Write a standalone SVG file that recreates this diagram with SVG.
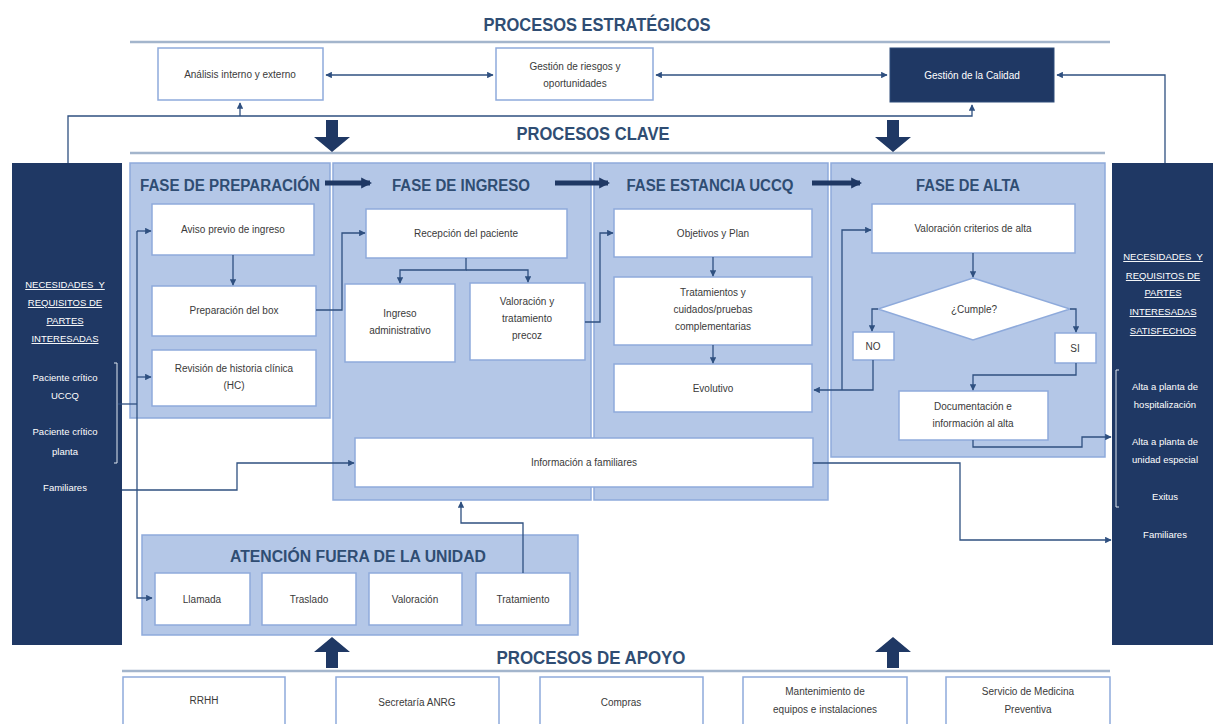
<svg xmlns="http://www.w3.org/2000/svg" width="1213" height="724" viewBox="0 0 1213 724">
<defs>
<style>
.box{fill:#fff;stroke:#8eaadb;stroke-width:1.5}
.phase{fill:#b4c7e7;stroke:#8eaadb;stroke-width:1.5}
.navy{fill:#1f3864}
.t{font-family:"Liberation Sans",Arial,sans-serif;font-size:10px;fill:#3a3a3a;text-anchor:middle}
.w{font-family:"Liberation Sans",Arial,sans-serif;font-size:9.5px;fill:#fff;text-anchor:middle}
.u{text-decoration:underline}
.h{font-family:"Liberation Sans",Arial,sans-serif;font-weight:bold;fill:#2f4d73;font-size:18px;text-anchor:middle}
.ph{font-family:"Liberation Sans",Arial,sans-serif;font-weight:bold;fill:#2f4d73;font-size:16px;text-anchor:middle}
.c{fill:none;stroke:#2f5080;stroke-width:1.3}
.thick{fill:none;stroke:#1f3864;stroke-width:5}
.rule{stroke:#a3b5cc;stroke-width:2.5}
.big{fill:#1f3864}
</style>
<marker id="a" viewBox="0 0 10 10" refX="9" refY="5" markerWidth="5" markerHeight="5" orient="auto-start-reverse"><path d="M0,0 L10,5 L0,10 z" fill="#2f5080"/></marker>
<marker id="b" viewBox="0 0 10 10" refX="8" refY="5" markerWidth="2.2" markerHeight="2.4" orient="auto"><path d="M0,0 L10,5 L0,10 z" fill="#1f3864"/></marker>
</defs>
<rect width="1213" height="724" fill="#fff"/>

<!-- Section titles and rules -->
<g id="titles">
<text class="h" x="597" y="31" textLength="227" lengthAdjust="spacingAndGlyphs">PROCESOS ESTRATÉGICOS</text>
<line class="rule" x1="130" y1="42" x2="1110" y2="42"/>
<text class="h" x="593" y="140" textLength="153" lengthAdjust="spacingAndGlyphs">PROCESOS CLAVE</text>
<line class="rule" x1="130" y1="153" x2="1105" y2="153"/>
<text class="h" x="591" y="664" textLength="189" lengthAdjust="spacingAndGlyphs">PROCESOS DE APOYO</text>
<line class="rule" x1="122" y1="671" x2="1110" y2="671"/>
<path class="big" d="M326,120 h12 v17 h12 l-18,15 l-18,-15 h12 z"/>
<path class="big" d="M887,120 h12 v17 h12 l-18,15 l-18,-15 h12 z"/>
<path class="big" d="M326,668 h12 v-16 h12 l-18,-15 l-18,15 h12 z"/>
<path class="big" d="M887,668 h12 v-16 h12 l-18,-15 l-18,15 h12 z"/>
</g>

<!-- Phase containers -->
<g id="phase-preparacion">
<rect class="phase" x="130" y="163" width="200" height="255"/>
<text class="ph" x="230" y="191" textLength="180" lengthAdjust="spacingAndGlyphs">FASE DE PREPARACIÓN</text>
</g>
<g id="phase-ingreso">
<rect class="phase" x="333" y="163" width="258" height="337"/>
<text class="ph" x="461" y="191" textLength="138" lengthAdjust="spacingAndGlyphs">FASE DE INGRESO</text>
</g>
<g id="phase-estancia">
<rect class="phase" x="594" y="163" width="234" height="337"/>
<text class="ph" x="710" y="191" textLength="167" lengthAdjust="spacingAndGlyphs">FASE ESTANCIA UCCQ</text>
</g>
<g id="phase-alta">
<rect class="phase" x="831" y="163" width="274" height="294"/>
<text class="ph" x="968" y="191" textLength="104" lengthAdjust="spacingAndGlyphs">FASE DE ALTA</text>
</g>
<g id="atencion-fuera">
<rect class="phase" x="142" y="535" width="436" height="100"/>
<text class="ph" x="358" y="562" textLength="256" lengthAdjust="spacingAndGlyphs">ATENCIÓN FUERA DE LA UNIDAD</text>
</g>

<!-- Sidebars -->
<g id="sidebar-left">
<rect class="navy" x="12" y="163" width="110" height="482"/>
<text class="w u" x="65" y="288">NECESIDADES&#160; Y</text>
<text class="w u" x="65" y="306">REQUISITOS DE</text>
<text class="w u" x="65" y="324">PARTES</text>
<text class="w u" x="65" y="342">INTERESADAS</text>
<text class="w" x="65" y="381">Paciente crítico</text>
<text class="w" x="65" y="399">UCCQ</text>
<text class="w" x="65" y="435">Paciente crítico</text>
<text class="w" x="65" y="455">planta</text>
<text class="w" x="65" y="491">Familiares</text>
<path d="M114,363 h3 v100 h-3" fill="none" stroke="#dfe6f0" stroke-width="1"/>
</g>
<g id="sidebar-right">
<rect class="navy" x="1112" y="163" width="101" height="482"/>
<text class="w u" x="1163" y="260">NECESIDADES&#160; Y</text>
<text class="w u" x="1163" y="279">REQUISITOS DE</text>
<text class="w u" x="1163" y="296">PARTES</text>
<text class="w u" x="1163" y="315">INTERESADAS</text>
<text class="w u" x="1163" y="334">SATISFECHOS</text>
<text class="w" x="1165" y="390">Alta a planta de</text>
<text class="w" x="1165" y="408">hospitalización</text>
<text class="w" x="1165" y="445">Alta a planta de</text>
<text class="w" x="1165" y="463">unidad especial</text>
<text class="w" x="1165" y="500">Exitus</text>
<text class="w" x="1165" y="538">Familiares</text>
<path d="M1119,370 h-3 v137 h3" fill="none" stroke="#dfe6f0" stroke-width="1"/>
</g>

<!-- Strategic nodes -->
<g id="analisis">
<rect class="box" x="158" y="48" width="165" height="52"/>
<text class="t" x="240" y="78">Análisis interno y externo</text>
</g>
<g id="riesgos">
<rect class="box" x="496" y="48" width="157" height="52"/>
<text class="t" x="575" y="70">Gestión de riesgos y</text>
<text class="t" x="575" y="87">oportunidades</text>
</g>
<g id="calidad">
<rect class="navy" x="890" y="48" width="164" height="54" stroke="#2f4d7a" stroke-width="1"/>
<text class="t" x="972" y="79" style="fill:#fff">Gestión de la Calidad</text>
</g>

<!-- Preparación nodes -->
<g id="aviso">
<rect class="box" x="152" y="204" width="162" height="51"/>
<text class="t" x="233" y="233">Aviso previo de ingreso</text>
</g>
<g id="prep-box">
<rect class="box" x="152" y="286" width="164" height="50"/>
<text class="t" x="234" y="314">Preparación del box</text>
</g>
<g id="revision-hc">
<rect class="box" x="152" y="350" width="164" height="56"/>
<text class="t" x="234" y="372">Revisión de historia clínica</text>
<text class="t" x="234" y="389">(HC)</text>
</g>

<!-- Ingreso nodes -->
<g id="recepcion">
<rect class="box" x="366" y="209" width="201" height="49"/>
<text class="t" x="466" y="237">Recepción del paciente</text>
</g>
<g id="ingreso-admin">
<rect class="box" x="345" y="284" width="110" height="78"/>
<text class="t" x="400" y="317">Ingreso</text>
<text class="t" x="400" y="334">administrativo</text>
</g>
<g id="valoracion-precoz">
<rect class="box" x="470" y="283" width="115" height="77"/>
<text class="t" x="527" y="305">Valoración y</text>
<text class="t" x="527" y="322">tratamiento</text>
<text class="t" x="527" y="339">precoz</text>
</g>

<!-- Estancia nodes -->
<g id="objetivos">
<rect class="box" x="614" y="209" width="198" height="48"/>
<text class="t" x="713" y="237">Objetivos y Plan</text>
</g>
<g id="tratamientos">
<rect class="box" x="614" y="277" width="198" height="68"/>
<text class="t" x="713" y="296">Tratamientos y</text>
<text class="t" x="713" y="313">cuidados/pruebas</text>
<text class="t" x="713" y="330">complementarias</text>
</g>
<g id="evolutivo">
<rect class="box" x="614" y="364" width="198" height="48"/>
<text class="t" x="713" y="392">Evolutivo</text>
</g>

<!-- Alta nodes -->
<g id="valoracion-alta">
<rect class="box" x="872" y="204" width="203" height="49"/>
<text class="t" x="973" y="232">Valoración criterios de alta</text>
</g>
<g id="cumple">
<polygon points="973,278 1070,309 973,340 878,309" fill="#fff" stroke="#8eaadb" stroke-width="1.5"/>
<text class="t" x="974" y="313">¿Cumple?</text>
</g>
<g id="no">
<rect class="box" x="853" y="332" width="41" height="28"/>
<text class="t" x="873" y="350">NO</text>
</g>
<g id="si">
<rect class="box" x="1055" y="333" width="41" height="30"/>
<text class="t" x="1075" y="352">SI</text>
</g>
<g id="documentacion">
<rect class="box" x="899" y="391" width="149" height="49"/>
<text class="t" x="973" y="410">Documentación e</text>
<text class="t" x="973" y="427">información al alta</text>
</g>

<!-- Información a familiares -->
<g id="info-familiares">
<rect class="box" x="355" y="438" width="458" height="49"/>
<text class="t" x="584" y="466">Información a familiares</text>
</g>

<!-- Atención fuera nodes -->
<g id="llamada"><rect class="box" x="155" y="573" width="95" height="52"/><text class="t" x="202" y="603">Llamada</text></g>
<g id="traslado"><rect class="box" x="262" y="573" width="94" height="52"/><text class="t" x="309" y="603">Traslado</text></g>
<g id="valoracion"><rect class="box" x="369" y="573" width="93" height="52"/><text class="t" x="415" y="603">Valoración</text></g>
<g id="tratamiento"><rect class="box" x="476" y="573" width="94" height="52"/><text class="t" x="523" y="603">Tratamiento</text></g>

<!-- Apoyo nodes -->
<g id="rrhh"><rect class="box" x="123" y="677" width="162" height="60"/><text class="t" x="204" y="704">RRHH</text></g>
<g id="secretaria"><rect class="box" x="336" y="677" width="163" height="60"/><text class="t" x="417" y="706">Secretaría ANRG</text></g>
<g id="compras"><rect class="box" x="540" y="677" width="163" height="60"/><text class="t" x="621" y="706">Compras</text></g>
<g id="mantenimiento"><rect class="box" x="743" y="677" width="164" height="60"/><text class="t" x="825" y="695">Mantenimiento de</text><text class="t" x="825" y="713">equipos e instalaciones</text></g>
<g id="medicina"><rect class="box" x="946" y="677" width="164" height="60"/><text class="t" x="1028" y="695">Servicio de Medicina</text><text class="t" x="1028" y="713">Preventiva</text></g>

<!-- Connectors -->
<g id="connectors">
<line class="c" x1="326" y1="75" x2="493" y2="75" marker-start="url(#a)" marker-end="url(#a)"/>
<line class="c" x1="656" y1="75" x2="887" y2="75" marker-start="url(#a)" marker-end="url(#a)"/>
<path class="c" d="M1165,163 V75 H1057" marker-end="url(#a)"/>
<path class="c" d="M68,163 V116 H972 V105" marker-end="url(#a)"/>
<path class="c" d="M240,116 V103" marker-end="url(#a)"/>
<line class="thick" x1="325" y1="183" x2="370" y2="183" marker-end="url(#b)"/>
<line class="thick" x1="555" y1="183" x2="608" y2="183" marker-end="url(#b)"/>
<line class="thick" x1="812" y1="183" x2="860" y2="183" marker-end="url(#b)"/>
<path class="c" d="M118,404 H137"/>
<path class="c" d="M137,231 V598 H152" marker-end="url(#a)"/>
<path class="c" d="M137,231 H151" marker-end="url(#a)"/>
<path class="c" d="M137,377 H151" marker-end="url(#a)"/>
<path class="c" d="M233,255 V285" marker-end="url(#a)"/>
<path class="c" d="M316,310 H342 V233 H365" marker-end="url(#a)"/>
<path class="c" d="M466,258 V270 H400 V283" marker-end="url(#a)"/>
<path class="c" d="M466,270 H528 V282" marker-end="url(#a)"/>
<path class="c" d="M585,322 H600 V233 H613" marker-end="url(#a)"/>
<path class="c" d="M713,257 V276" marker-end="url(#a)"/>
<path class="c" d="M713,345 V363" marker-end="url(#a)"/>
<path class="c" d="M973,253 V277" marker-end="url(#a)"/>
<path class="c" d="M878,309 H872 V331" marker-end="url(#a)"/>
<path class="c" d="M1070,309 H1076 V332" marker-end="url(#a)"/>
<path class="c" d="M873,360 V390 H814" marker-end="url(#a)"/>
<path class="c" d="M842,390 V230 H871" marker-end="url(#a)"/>
<path class="c" d="M1076,363 V375 H973 V390" marker-end="url(#a)"/>
<path class="c" d="M973,440 V447 H1082 V437 H1111" marker-end="url(#a)"/>
<path class="c" d="M122,490 H237 V463 H354" marker-end="url(#a)"/>
<path class="c" d="M813,463 H960 V540 H1111" marker-end="url(#a)"/>
<path class="c" d="M523,573 V523 H461 V502" marker-end="url(#a)"/>
</g>
</svg>
